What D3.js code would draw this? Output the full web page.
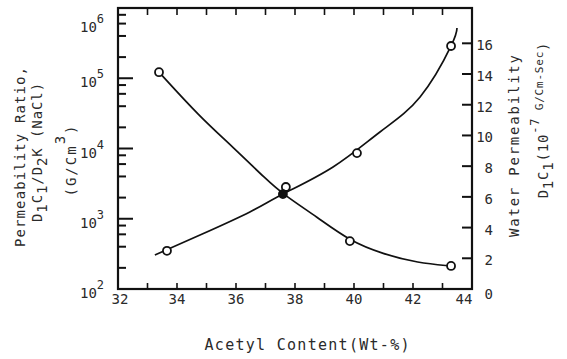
<!DOCTYPE html>
<html><head><meta charset="utf-8">
<script src="https://cdn.jsdelivr.net/npm/d3@7"></script>
<style>body{margin:0;background:#fff}svg{display:block}text{font-family:"DejaVu Sans Mono",monospace;fill:#2a2a2a}</style>
</head><body>
<script>
// ---- data ----
const xMajorTicks = [32, 34, 36, 38, 40, 42, 44];
const xMinorTicks = [33, 35, 37, 39, 41, 43];
const ratioExponents = [2, 3, 4, 5, 6];
const ratioMinorFactors = [2, 4, 6, 8];
const waterTicks = [0, 2, 4, 6, 8, 10, 12, 14, 16];

// Permeability ratio (left, log axis) – measured points and fitted curve
const ratioX = [33.66, 37.69, 40.1, 43.29];
const ratioY = [350, 2830, 8600, 288000];
const ratioCurveX = [33.25, 34.78, 36.47, 37.59, 39.29, 40.88, 42.24, 43.29, 43.49];
const ratioCurveY = [305, 587, 1250, 2250, 5460, 17200, 54100, 288000, 519000];

// Water permeability (right axis) – measured points and fitted curve
const waterX = [33.39, 37.59, 39.86, 43.29];
const waterY = [14.12, 6.18, 3.12, 1.50];
const waterFilled = [false, true, false, false];
const waterCurveX = [33.39, 34.78, 35.9, 37.05, 37.59, 38.75, 39.86, 40.98, 42.17, 43.29];
const waterCurveY = [14.12, 11.19, 9.24, 7.09, 6.18, 4.68, 3.12, 2.28, 1.69, 1.50];

// ---- drawing ----
const W = 567, H = 359;
const L = 118, R = 472, T = 8, B = 289;
const svg = d3.select("body").append("svg").attr("width", W).attr("height", H);

const x = d3.scaleLinear().domain([32, 44]).range([L, R]);
const yL = d3.scaleLog().domain([100, 1e6]).range([B, T]);
const yR = d3.scaleLinear().domain([0, 18.3]).range([B, T]);

const ink = "#111";

// frame
svg.append("rect").attr("x", L).attr("y", T).attr("width", R - L).attr("height", B - T)
  .attr("fill", "none").attr("stroke", ink).attr("stroke-width", 2.2);

// ticks
const xInner = xMinorTicks.concat(xMajorTicks.slice(1, -1));
const ratioMajors = ratioExponents.map(e => Math.pow(10, e)).slice(1, -1);
const ratioMinors = [];
ratioExponents.slice(0, -1).forEach(e => ratioMinorFactors.forEach(f => ratioMinors.push(f * Math.pow(10, e))));
const tg = svg.append("g").attr("stroke", ink);
tg.selectAll("line.tb").data(xInner).join("line").attr("class", "tb")
  .attr("x1", d => x(d)).attr("x2", d => x(d)).attr("y1", B).attr("y2", B - 6).attr("stroke-width", 1.6);
tg.selectAll("line.tt").data(xInner).join("line").attr("class", "tt")
  .attr("x1", d => x(d)).attr("x2", d => x(d)).attr("y1", T).attr("y2", T + 7).attr("stroke-width", 1.6);
tg.selectAll("line.tlM").data(ratioMajors).join("line").attr("class", "tlM")
  .attr("x1", L).attr("x2", L + 15).attr("y1", d => yL(d)).attr("y2", d => yL(d)).attr("stroke-width", 2);
tg.selectAll("line.tlm").data(ratioMinors).join("line").attr("class", "tlm")
  .attr("x1", L).attr("x2", L + 8).attr("y1", d => yL(d)).attr("y2", d => yL(d)).attr("stroke-width", 2);
tg.selectAll("line.tr").data(waterTicks.slice(1)).join("line").attr("class", "tr")
  .attr("x1", R).attr("x2", R - 10).attr("y1", d => yR(d)).attr("y2", d => yR(d)).attr("stroke-width", 2);

// tick labels
svg.append("g").selectAll("text").data(xMajorTicks).join("text")
  .attr("x", d => x(d) + (d === 32 ? 2 : 0) - (d === 44 ? 8 : 0)).attr("y", 304)
  .attr("text-anchor", "middle").attr("font-size", 14).text(d => d);

const lt = svg.append("g").selectAll("text").data(ratioExponents).join("text")
  .attr("x", 80).attr("y", d => Math.max(yL(Math.pow(10, d)) + 9, 32))
  .attr("font-size", 14);
lt.append("tspan").text("10");
lt.append("tspan").attr("font-size", 12).attr("dy", -9).text(d => d);

svg.append("g").selectAll("text").data(waterTicks).join("text")
  .attr("x", 493).attr("y", d => yR(d) + 7 + (d === 0 ? 3 : 0))
  .attr("text-anchor", "end").attr("font-size", 14).text(d => d);

// axis titles
svg.append("text").attr("x", 307).attr("y", 350).attr("text-anchor", "middle")
  .attr("font-size", 15).attr("textLength", 205).attr("lengthAdjust", "spacing")
  .text("Acetyl Content(Wt-%)");

const lg = svg.append("g");
lg.append("text").attr("transform", "translate(25,157) rotate(-90)").attr("text-anchor", "middle")
  .attr("font-size", 14).attr("textLength", 180).attr("lengthAdjust", "spacing").text("Permeability Ratio,");
const l2 = lg.append("text").attr("transform", "translate(42,152) rotate(-90)").attr("text-anchor", "middle")
  .attr("font-size", 14).attr("letter-spacing", 0.9);
l2.append("tspan").text("D");
l2.append("tspan").attr("dy", 5).text("1");
l2.append("tspan").attr("dy", -5).text("C");
l2.append("tspan").attr("dy", 5).text("1");
l2.append("tspan").attr("dy", -5).text("/D");
l2.append("tspan").attr("dy", 5).text("2");
l2.append("tspan").attr("dy", -5).text("K (NaCl)");
const l3 = lg.append("text").attr("transform", "translate(76,160) rotate(-90)").attr("text-anchor", "middle")
  .attr("font-size", 14).attr("letter-spacing", 2);
l3.append("tspan").text("(G/Cm");
l3.append("tspan").attr("dy", -11).text("3");
l3.append("tspan").attr("dy", 11).text(")");

svg.append("text").attr("transform", "translate(519,146) rotate(-90)").attr("text-anchor", "middle")
  .attr("font-size", 14).attr("textLength", 182).attr("lengthAdjust", "spacing").text("Water Permeability");
const r2 = svg.append("text").attr("transform", "translate(548,120) rotate(-90)").attr("text-anchor", "middle")
  .attr("font-size", 14).attr("letter-spacing", 0.8);
r2.append("tspan").text("D");
r2.append("tspan").attr("dy", 5).text("1");
r2.append("tspan").attr("dy", -5).text("C");
r2.append("tspan").attr("dy", 5).text("1");
r2.append("tspan").attr("dy", -5).text("(10");
r2.append("tspan").attr("dy", -9).attr("font-size", 12).text("-7");
r2.append("tspan").attr("dy", 4).attr("font-size", 11).text(" G/Cm-Sec");
r2.append("tspan").attr("dy", 5).text(")");

// curves
const lineR = d3.line().x((d, i) => x(ratioCurveX[i])).y(d => yL(d)).curve(d3.curveNatural);
const lineW = d3.line().x((d, i) => x(waterCurveX[i])).y(d => yR(d)).curve(d3.curveBasis);
svg.append("path").attr("d", lineR(ratioCurveY)).attr("fill", "none").attr("stroke", ink).attr("stroke-width", 1.7);
svg.append("path").attr("d", lineW(waterCurveY)).attr("fill", "none").attr("stroke", ink).attr("stroke-width", 1.7);

// markers
svg.append("g").selectAll("circle").data(ratioY).join("circle")
  .attr("cx", (d, i) => x(ratioX[i])).attr("cy", d => yL(d)).attr("r", 4)
  .attr("fill", "#fff").attr("stroke", ink).attr("stroke-width", 1.8);
svg.append("g").selectAll("circle").data(waterY).join("circle")
  .attr("cx", (d, i) => x(waterX[i])).attr("cy", d => yR(d)).attr("r", 4)
  .attr("fill", (d, i) => waterFilled[i] ? ink : "#fff").attr("stroke", ink).attr("stroke-width", 1.8);
</script>
</body></html>
